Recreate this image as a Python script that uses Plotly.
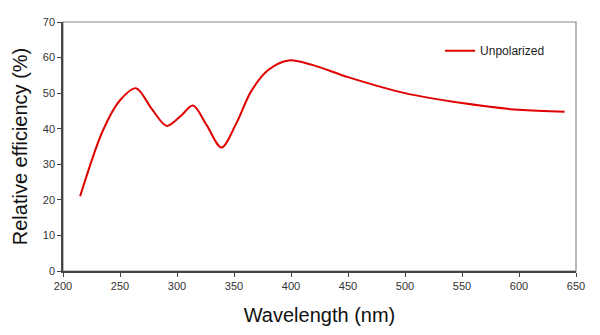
import plotly.graph_objects as go

wavelength = [215, 235, 250, 264, 278, 291, 303, 314, 326, 339, 352, 365, 380, 398,
              420, 450, 500, 550, 600, 640]
efficiency = [21, 39.5, 48, 51.4, 45.5, 40.8, 43.5, 46.5, 41, 34.7, 41.5, 50.5, 56.5, 59.2,
              57.8, 54.5, 50, 47.2, 45.3, 44.8]
x_ticks = [200, 250, 300, 350, 400, 450, 500, 550, 600, 650]
y_ticks = [0, 10, 20, 30, 40, 50, 60, 70]

fig = go.Figure()
fig.add_trace(go.Scatter(
    x=wavelength, y=efficiency, mode="lines", name="Unpolarized",
    line=dict(color="#e00000", width=2, shape="spline", smoothing=0.9),
))

font = "Liberation Sans, Arial, sans-serif"
fig.update_layout(
    width=600, height=335,
    margin=dict(l=63, r=24, t=22, b=64),
    paper_bgcolor="white", plot_bgcolor="white",
    font=dict(family=font, color="#333"),
    showlegend=True,
    legend=dict(x=0.735, y=0.885, xanchor="left", yanchor="middle",
                bgcolor="rgba(0,0,0,0)", font=dict(size=12, color="#222"),
                itemwidth=30),
    xaxis=dict(range=[200, 650], tickvals=x_ticks, ticks="outside", ticklen=4,
               tickcolor="#444", showline=True, linecolor="#444", linewidth=1.5,
               showgrid=False, zeroline=False, tickfont=dict(size=11, color="#333"),
               title=dict(text="Wavelength (nm)", font=dict(size=20, color="#111"), standoff=17)),
    yaxis=dict(range=[0, 70], tickvals=y_ticks, ticks="outside", ticklen=4,
               tickcolor="#444", showline=True, linecolor="#444", linewidth=1.5,
               showgrid=False, zeroline=False, tickfont=dict(size=11, color="#333"),
               title=dict(text="Relative efficiency (%)", font=dict(size=20, color="#111"), standoff=10)),
    shapes=[dict(type="rect", xref="paper", yref="paper", x0=0, y0=0, x1=1, y1=1,
                 line=dict(color="#888", width=1.2), layer="below")],
)

fig.write_html("out.html")
